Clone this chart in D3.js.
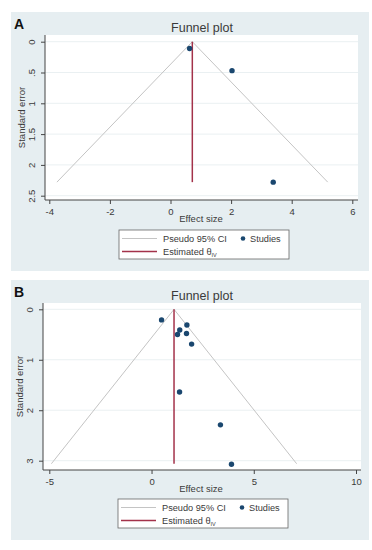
<!DOCTYPE html>
<html>
<head>
<meta charset="utf-8">
<script src="https://cdn.jsdelivr.net/npm/d3@7"></script>
<style>
  body { margin: 0; background: #fff; }
  svg { display: block; font-family: "Liberation Sans", Arial, sans-serif; }
</style>
</head>
<body>
<svg id="chart" width="372" height="550"></svg>
<script>
// panel A
const estA = 0.72;
const seMaxA = 2.28;
const effectA = [0.63, 2.03, 3.39];
const seA = [0.11, 0.47, 2.28];
const xTicksA = [-4, -2, 0, 2, 4, 6];
const yTicksA = [0, 0.5, 1, 1.5, 2, 2.5];
const yLabelsA = ['0', '.5', '1', '1.5', '2', '2.5'];

// panel B
const estB = 1.1;
const seMaxB = 3.06;
const effectB = [0.49, 1.73, 1.38, 1.27, 1.71, 1.96, 1.37, 3.37, 3.91];
const seB = [0.21, 0.31, 0.41, 0.50, 0.48, 0.69, 1.64, 2.29, 3.07];
const xTicksB = [-5, 0, 5, 10];
const yTicksB = [0, 1, 2, 3];
const yLabelsB = ['0', '1', '2', '3'];

const svg = d3.select('#chart');

const bg = '#e6eef1';
const navy = '#1a476f';
const maroon = '#a3324a';
const ciGray = '#c4c4c4';
const txt = '#3a3a3a';

function drawPanel(p) {
  const g = svg.append('g');

  g.append('rect')
    .attr('x', 11).attr('y', p.top)
    .attr('width', 358).attr('height', p.height)
    .attr('fill', bg);

  g.append('text')
    .attr('x', 14).attr('y', p.top + 17)
    .attr('font-weight', 'bold').attr('font-size', 14)
    .attr('fill', '#111')
    .text(p.label);

  g.append('text')
    .attr('x', 202).attr('y', p.top + 20)
    .attr('text-anchor', 'middle').attr('font-size', 12.5)
    .attr('fill', txt)
    .text('Funnel plot');

  const x = d3.scaleLinear().domain(p.xDom).range(p.xRange);
  const y = d3.scaleLinear().domain(p.yDom).range(p.yRange);

  // plot region
  g.append('rect')
    .attr('x', p.plot[0]).attr('y', p.plot[1])
    .attr('width', p.plot[2] - p.plot[0]).attr('height', p.plot[3] - p.plot[1])
    .attr('fill', '#fff');

  // gridlines
  g.selectAll('.grid').data(p.yTicks).join('line')
    .attr('x1', p.plot[0]).attr('x2', p.plot[2])
    .attr('y1', d => y(d)).attr('y2', d => y(d))
    .attr('stroke', '#eaf0f2').attr('stroke-width', 1);

  // x axis
  const xAxis = g.append('g')
    .attr('transform', `translate(0,${p.plot[3]})`)
    .call(d3.axisBottom(x).tickValues(p.xTicks).tickFormat(d => String(d)).tickSize(4).tickSizeOuter(0));
  xAxis.select('.domain').attr('d', `M${p.plot[0]},0H${p.plot[2]}`).attr('stroke', '#444');
  xAxis.selectAll('.tick line').attr('stroke', '#444');
  xAxis.selectAll('.tick text')
    .attr('font-size', 9.5).attr('fill', txt)
    .attr('font-family', '"Liberation Sans", Arial, sans-serif')
    .attr('dy', '0.85em');

  // y axis
  const yAxis = g.append('g')
    .attr('transform', `translate(${p.plot[0]},0)`)
    .call(d3.axisLeft(y).tickValues(p.yTicks).tickFormat((d, i) => p.yLabels[i]).tickSize(4).tickSizeOuter(0));
  yAxis.select('.domain').attr('d', `M0,${p.plot[1]}V${p.plot[3]}`).attr('stroke', '#444');
  yAxis.selectAll('.tick line').attr('stroke', '#444');
  yAxis.selectAll('.tick text')
    .attr('font-size', 9.5).attr('fill', txt)
    .attr('font-family', '"Liberation Sans", Arial, sans-serif')
    .attr('x', null).attr('dy', null)
    .attr('text-anchor', 'middle')
    .attr('transform', 'translate(-10,0) rotate(-90)');

  g.append('text')
    .attr('transform', `translate(${p.plot[0] - 20},${(p.plot[1] + p.plot[3]) / 2}) rotate(-90)`)
    .attr('text-anchor', 'middle').attr('font-size', 9.5).attr('fill', txt)
    .text('Standard error');

  g.append('text')
    .attr('x', 201).attr('y', p.plot[3] + 22)
    .attr('text-anchor', 'middle').attr('font-size', 9.5).attr('fill', txt)
    .text('Effect size');

  // funnel (pseudo 95% CI)
  const funnel = [
    [p.est - 1.96 * p.seMax, p.seMax],
    [p.est, 0],
    [p.est + 1.96 * p.seMax, p.seMax]
  ];
  g.append('path')
    .attr('d', d3.line().x(d => x(d[0])).y(d => y(d[1]))(funnel))
    .attr('fill', 'none').attr('stroke', ciGray).attr('stroke-width', 1);

  // estimated theta
  g.append('line')
    .attr('x1', x(p.est)).attr('x2', x(p.est))
    .attr('y1', y(0)).attr('y2', y(p.seMax))
    .attr('stroke', maroon).attr('stroke-width', 1.5);

  // studies
  g.selectAll('.study').data(p.effect).join('circle')
    .attr('cx', d => x(d))
    .attr('cy', (d, i) => y(p.se[i]))
    .attr('r', 2.7)
    .attr('fill', navy);

  // legend
  const lx = p.legend[0], ly = p.legend[1];
  const lg = g.append('g').attr('transform', `translate(${lx},${ly})`);
  lg.append('rect')
    .attr('width', 170).attr('height', 29)
    .attr('fill', '#fff').attr('stroke', '#666').attr('stroke-width', 0.8);
  lg.append('line').attr('x1', 3).attr('x2', 38).attr('y1', 8.5).attr('y2', 8.5)
    .attr('stroke', ciGray).attr('stroke-width', 1);
  lg.append('text').attr('x', 44).attr('y', 12).attr('font-size', 9.2).attr('fill', txt)
    .text('Pseudo 95% CI');
  lg.append('circle').attr('cx', 124).attr('cy', 8.5).attr('r', 2.3).attr('fill', navy);
  lg.append('text').attr('x', 131).attr('y', 12).attr('font-size', 9.2).attr('fill', txt)
    .text('Studies');
  lg.append('line').attr('x1', 3).attr('x2', 38).attr('y1', 21.5).attr('y2', 21.5)
    .attr('stroke', maroon).attr('stroke-width', 1.5);
  const t = lg.append('text').attr('x', 44).attr('y', 25).attr('font-size', 9.2).attr('fill', txt);
  t.append('tspan').text('Estimated θ');
  t.append('tspan').attr('font-size', 5.5).attr('dy', 2).text('IV');
}

drawPanel({
  label: 'A', top: 12, height: 259,
  plot: [45, 35, 358, 200],
  xDom: [-4, 6], xRange: [49.3, 352.3],
  yDom: [0, 2.5], yRange: [41.7, 195.7],
  xTicks: xTicksA, yTicks: yTicksA, yLabels: yLabelsA,
  est: estA, seMax: seMaxA, effect: effectA, se: seA,
  legend: [119, 230]
});

drawPanel({
  label: 'B', top: 280, height: 260,
  plot: [43, 303, 361, 470],
  xDom: [-5, 10], xRange: [49.3, 356],
  yDom: [0, 3], yRange: [309.3, 460.7],
  xTicks: xTicksB, yTicks: yTicksB, yLabels: yLabelsB,
  est: estB, seMax: seMaxB, effect: effectB, se: seB,
  legend: [118, 499]
});
</script>
</body>
</html>
